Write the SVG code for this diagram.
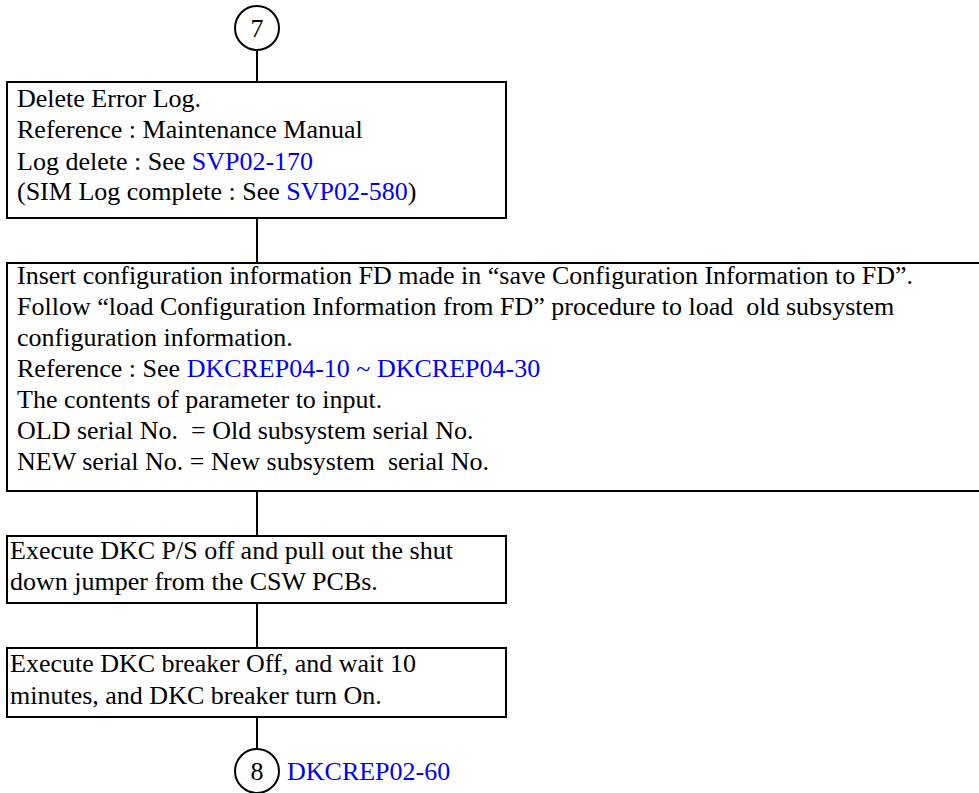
<svg xmlns="http://www.w3.org/2000/svg" width="979" height="793" viewBox="0 0 979 793">
<style>
.box{fill:#fff;stroke:#000;stroke-width:2}
.con{stroke:#000;stroke-width:2;fill:none}
.t{font-family:"Liberation Serif","Times New Roman",serif;font-size:26px;fill:#000;white-space:pre}
.lk{fill:#0000ff}
</style>
<rect width="979" height="793" fill="#fff"/>
<g id="connectors">
<line class="con" x1="257" y1="50" x2="257" y2="82"/>
<line class="con" x1="257" y1="218" x2="257" y2="263"/>
<line class="con" x1="257" y1="491" x2="257" y2="536"/>
<line class="con" x1="257" y1="603" x2="257" y2="648"/>
<line class="con" x1="257" y1="717" x2="257" y2="749"/>
</g>
<g id="c7">
<circle class="box" cx="257" cy="28" r="22"/>
<text class="t" x="257" y="37" text-anchor="middle">7</text>
</g>
<g id="box1">
<rect class="box" x="7" y="82" width="499" height="136"/>
<text class="t" x="17" y="107">Delete Error Log.</text>
<text class="t" x="17" y="138">Reference : Maintenance Manual</text>
<text class="t" x="17" y="170">Log delete : See <tspan class="lk">SVP02-170</tspan></text>
<text class="t" x="17" y="200">(SIM Log complete : See <tspan class="lk">SVP02-580</tspan>)</text>
</g>
<g id="box2">
<rect class="box" x="7" y="263" width="980" height="228"/>
<text class="t" x="17" y="284">Insert configuration information FD made in “save Configuration Information to FD”.</text>
<text class="t" x="17" y="315">Follow “load Configuration Information from FD” procedure to load  old subsystem</text>
<text class="t" x="17" y="346">configuration information.</text>
<text class="t" x="17" y="377">Reference : See <tspan class="lk">DKCREP04-10 ~ DKCREP04-30</tspan></text>
<text class="t" x="17" y="408">The contents of parameter to input.</text>
<text class="t" x="17" y="439">OLD serial No.  = Old subsystem serial No.</text>
<text class="t" x="17" y="470">NEW serial No. = New subsystem  serial No.</text>
</g>
<g id="box3">
<rect class="box" x="7" y="536" width="499" height="67"/>
<text class="t" x="10" y="559">Execute DKC P/S off and pull out the shut</text>
<text class="t" x="10" y="590">down jumper from the CSW PCBs.</text>
</g>
<g id="box4">
<rect class="box" x="7" y="648" width="499" height="69"/>
<text class="t" x="10" y="672">Execute DKC breaker Off, and wait 10</text>
<text class="t" x="10" y="704">minutes, and DKC breaker turn On.</text>
</g>
<g id="c8">
<circle class="box" cx="257" cy="771" r="22"/>
<text class="t" x="257" y="780" text-anchor="middle">8</text>
<text class="t lk" x="287" y="780">DKCREP02-60</text>
</g>
</svg>
